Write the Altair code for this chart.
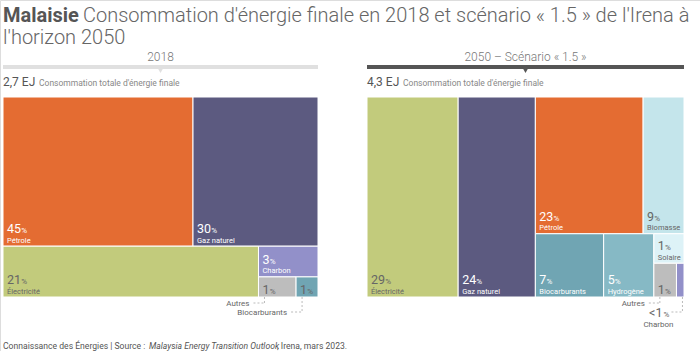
import altair as alt
import pandas as pd

# ---------------- data ----------------
cats_2018 = ["Pétrole", "Gaz naturel", "Électricité", "Charbon", "Autres", "Biocarburants"]
vals_2018 = [45.0, 29.6, 20.6, 2.9, 1.2, 0.7]

cats_2050 = ["Électricité", "Gaz naturel", "Pétrole", "Biomasse", "Biocarburants",
             "Hydrogène", "Solaire", "Autres", "Charbon"]
vals_2050 = [28.7, 24.3, 23.2, 8.8, 6.8, 5.0, 1.4, 1.2, 0.4]

totals = ["2,7 EJ", "4,3 EJ"]
total_caption = ["Consommation totale d'énergie finale"]
panel_titles = ["2018", "2050 – Scénario « 1.5 »"]

title_bold = ["Malaisie"]
title_rest = ["Consommation d'énergie finale en 2018 et scénario « 1.5 » de l'Irena à"]
title_line2 = ["l'horizon 2050"]
footer_parts = ["Connaissance des Énergies | Source : ",
                "Malaysia Energy Transition Outlook",
                ", Irena, mars 2023."]

palette = {
    "Pétrole": "#E46C32",
    "Gaz naturel": "#5C5A80",
    "Électricité": "#C2CB7C",
    "Charbon": "#9290C9",
    "Autres": "#BDBDBD",
    "Biocarburants": "#70A5B3",
    "Hydrogène": "#86B9C5",
    "Biomasse": "#C4E5EB",
    "Solaire": "#DDF2F7",
}
white_text = {"Pétrole", "Gaz naturel", "Charbon", "Biocarburants", "Hydrogène"}

# nesting of the treemap splits ("h": side by side, "v": stacked)
tree_2018 = ("v", [("h", ["Pétrole", "Gaz naturel"]),
                   ("h", ["Électricité", ("v", ["Charbon", ("h", ["Autres", "Biocarburants"])])])])
tree_2050 = ("h", ["Électricité", "Gaz naturel",
                   ("v", [("h", ["Pétrole", "Biomasse"]),
                          ("h", ["Biocarburants", "Hydrogène",
                                 ("v", ["Solaire", ("h", ["Autres", "Charbon"])])])])])

FONT = "Roboto"
LIGHT_FONT = "Roboto Light, Roboto"
GREY = "#666666"
XR = [[3, 318], [367, 684]]
YR = [97, 297]


def node_sum(node, vals):
    if isinstance(node, str):
        return vals[node]
    return sum(node_sum(c, vals) for c in node[1])


def layout(node, vals, x0, y0, x1, y1, out):
    if isinstance(node, str):
        out[node] = (x0, y0, x1, y1)
        return
    d, children = node
    tot = node_sum(node, vals)
    pos = x0 if d == "h" else y0
    for c in children:
        f = node_sum(c, vals) / tot
        if d == "h":
            w = (x1 - x0) * f
            layout(c, vals, pos, y0, pos + w, y1, out)
            pos += w
        else:
            h = (y1 - y0) * f
            layout(c, vals, x0, pos, x1, pos + h, out)
            pos += h


def build_df(cats, vals, tree, xr):
    v = dict(zip(cats, vals))
    out = {}
    layout(tree, v, 0.0, 0.0, 1.0, 1.0, out)
    pw = xr[1] - xr[0]
    ph = YR[1] - YR[0]
    rows = []
    for c in cats:
        x0, y0, x1, y1 = out[c]
        wpx, hpx = (x1 - x0) * pw, (y1 - y0) * ph
        name_in = hpx >= 25 and wpx >= 28
        num_in = wpx >= 15
        rv = int(round(v[c]))
        lab = str(rv) if rv >= 1 else "<1"
        rows.append(dict(name=c, value=v[c], x0=x0, x1=x1, y0=y0, y1=y1,
                         label=lab, ndig=len(lab), color=palette[c],
                         tc="#ffffff" if (c in white_text and name_in) else GREY,
                         name_in=name_in, num_in=num_in))
    return pd.DataFrame(rows)


def panel(df, title, total, bar_color, xr):
    xs = alt.Scale(domain=[0, 1], range=xr)
    ys = alt.Scale(domain=[0, 1], range=YR)
    X0 = alt.X("x0:Q", scale=xs, axis=None)
    Y1 = alt.Y("y1:Q", scale=ys, axis=None)
    base = alt.Chart(df)
    layers = []
    rect = base.mark_rect(stroke="white", strokeWidth=1).encode(
        x=X0, x2="x1:Q", y=alt.Y("y0:Q", scale=ys, axis=None), y2="y1:Q",
        color=alt.Color("color:N", scale=None))
    layers.append(rect)

    def txt(filt, dx, dy, size, field):
        return base.transform_filter(filt).mark_text(
            align="left", baseline="alphabetic", dx=dx, dy=dy, font=FONT,
            fontSize=size).encode(
            x=X0, y=Y1, text=f"{field}:N", color=alt.Color("tc:N", scale=None))

    # inside labels with name
    layers.append(txt("datum.name_in && datum.num_in", 4, -13, 12.5, "label"))
    layers.append(txt("datum.name_in", 4, -3.5, 7.5, "name"))
    # inside number only
    layers.append(txt("!datum.name_in && datum.num_in", 4, -3.5, 12.5, "label"))
    # percent signs
    for nd, w in [(1, 7.2), (2, 14.2)]:
        for cond, dy in [("datum.name_in", -13), ("!datum.name_in", -3.5)]:
            layers.append(
                base.transform_filter(f"datum.num_in && datum.ndig == {nd} && {cond}")
                .transform_calculate(pc="'%'")
                .mark_text(align="left", baseline="alphabetic", dx=4 + w, dy=dy, font=FONT, fontSize=8)
                .encode(x=X0, y=Y1, text="pc:N", color=alt.Color("tc:N", scale=None)))

    # call-outs for small tiles
    outside = df[~df["name_in"]].sort_values("x0")
    drops = [6, 15]
    for i, (_, r) in enumerate(outside.iterrows()):
        drop = drops[min(i, 1)]
        sub = base.transform_filter(alt.datum.name == r["name"])
        dash = [2, 2]
        layers.append(sub.mark_rule(color="#aaaaaa", strokeDash=dash, strokeWidth=0.8,
                                    xOffset=6, y2Offset=drop).encode(
            x=X0, y=Y1, y2="y1:Q"))
        layers.append(sub.mark_rule(color="#aaaaaa", strokeDash=dash, strokeWidth=0.8,
                                    xOffset=-5, x2Offset=6, yOffset=drop).encode(
            x=X0, x2="x0:Q", y=Y1))
        if r["num_in"]:
            layers.append(sub.mark_text(align="right", baseline="alphabetic", dx=-9, dy=drop + 3,
                                        font=FONT, fontSize=8, color=GREY).encode(
                x=X0, y=Y1, text="name:N"))
        else:
            layers.append(sub.mark_text(align="right", baseline="alphabetic", dx=-14, dy=drop + 5,
                                        font=FONT, fontSize=12.5, color=GREY).encode(
                x=X0, y=Y1, text="label:N"))
            layers.append(sub.transform_calculate(pc="'%'").mark_text(
                align="left", baseline="alphabetic", dx=-13, dy=drop + 5,
                font=FONT, fontSize=8, color=GREY).encode(x=X0, y=Y1, text="pc:N"))
            layers.append(sub.mark_text(align="center", baseline="alphabetic", dx=-18, dy=drop + 15,
                                        font=FONT, fontSize=8, color=GREY).encode(
                x=X0, y=Y1, text="name:N"))

    # header: title, bar, triangle, total
    hdr = alt.Chart(pd.DataFrame({"t": [title], "tot": [total], "cap": total_caption,
                                  "l": [0.0], "c": [0.5], "r": [1.0]}))
    layers.append(hdr.mark_text(align="center", baseline="alphabetic", font=LIGHT_FONT, fontSize=12,
                                fontWeight=300, color="#777777").encode(
        x=alt.X("c:Q", scale=xs, axis=None), y=alt.value(61), text="t:N"))
    layers.append(hdr.mark_rect(color=bar_color).encode(
        x=alt.X("l:Q", scale=xs, axis=None), x2="r:Q", y=alt.value(65), y2=alt.value(69)))
    layers.append(hdr.mark_point(shape="triangle-down", filled=True, size=45, opacity=1,
                                 color=bar_color, strokeWidth=0).encode(
        x=alt.X("c:Q", scale=xs, axis=None), y=alt.value(70)))
    layers.append(hdr.mark_text(align="left", baseline="alphabetic", font=FONT, fontSize=12,
                                color="#555555").encode(
        x=alt.X("l:Q", scale=xs, axis=None), y=alt.value(86), text="tot:N"))
    layers.append(hdr.mark_text(align="left", baseline="alphabetic", font=FONT, fontSize=8.5,
                                dx=36, color="#888888").encode(
        x=alt.X("l:Q", scale=xs, axis=None), y=alt.value(86), text="cap:N"))
    return alt.layer(*layers)


df18 = build_df(cats_2018, vals_2018, tree_2018, XR[0])
df50 = build_df(cats_2050, vals_2050, tree_2050, XR[1])

left = panel(df18, panel_titles[0], totals[0], "#e0e0e0", XR[0])
right = panel(df50, panel_titles[1], totals[1], "#555555", XR[1])

txt_df = pd.DataFrame({"b": title_bold, "r": title_rest, "l2": title_line2,
                       "f1": [footer_parts[0]], "f2": [footer_parts[1]], "f3": [footer_parts[2]]})
tb = alt.Chart(txt_df)
titles = [
    tb.mark_text(align="left", baseline="alphabetic", font=FONT, fontSize=20, fontWeight="bold",
                 color="#555555").encode(x=alt.value(3), y=alt.value(22), text="b:N"),
    tb.mark_text(align="left", baseline="alphabetic", font=LIGHT_FONT, fontSize=20, fontWeight=300,
                 color="#666666").encode(x=alt.value(83), y=alt.value(22), text="r:N"),
    tb.mark_text(align="left", baseline="alphabetic", font=LIGHT_FONT, fontSize=20, fontWeight=300,
                 color="#666666").encode(x=alt.value(3), y=alt.value(44), text="l2:N"),
    tb.mark_text(align="left", baseline="alphabetic", font=FONT, fontSize=8.6,
                 color="#555555").encode(x=alt.value(3), y=alt.value(349), text="f1:N"),
    tb.mark_text(align="left", baseline="alphabetic", font=FONT, fontSize=8.6, fontStyle="italic",
                 color="#555555").encode(x=alt.value(149), y=alt.value(349), text="f2:N"),
    tb.mark_text(align="left", baseline="alphabetic", font=FONT, fontSize=8.6,
                 color="#555555").encode(x=alt.value(277), y=alt.value(349), text="f3:N"),
]

chart = alt.layer(*titles, left, right).resolve_scale(x="independent", y="independent").properties(
    width=700, height=351, autosize=alt.AutoSizeParams(type="none"), padding=0
).configure_view(strokeWidth=0).configure(background="white")

chart.save("out.html", embed_options={"renderer": "svg", "actions": False})
